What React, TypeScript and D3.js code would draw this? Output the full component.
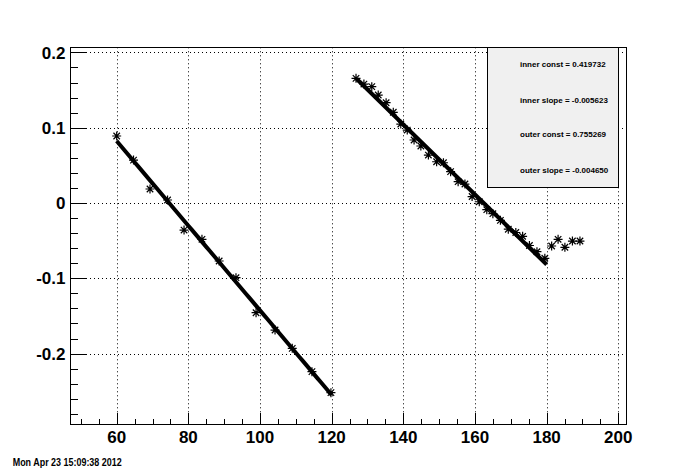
import React from 'react';
import * as d3 from 'd3';

// measured points
const innerX = [60, 64.7, 69.3, 74.2, 78.8, 83.8, 88.6, 93.3, 98.9, 104.2, 109, 114.5, 119.8];
const innerY = [0.089, 0.057, 0.0186, 0.004, -0.0359, -0.0482, -0.077, -0.0992, -0.1457, -0.1687, -0.193, -0.224, -0.2519];

const outerX = [126.8, 129.0, 131.2, 133.0, 135.2, 137.2, 139.3, 141.1, 143.0, 144.9, 147.0, 149.3, 151.2, 153.2, 155.3, 157.2,
  159.2, 161.2, 163.3, 165.0, 167.1, 169.3, 171.4, 173.3, 175.2, 177.3, 179.5, 181.4, 183.2, 185.1, 187.2, 189.3];
const outerY = [0.1656, 0.158, 0.1545, 0.1434, 0.1332, 0.1205, 0.1049, 0.0969, 0.0837, 0.0757, 0.0637, 0.0548, 0.0535, 0.0416,
  0.0283, 0.0252, 0.0086, 0.0017, -0.0089, -0.0142, -0.023, -0.0348, -0.0392, -0.0442, -0.0564, -0.0647, -0.0734,
  -0.0571, -0.0482, -0.0588, -0.0505, -0.0505];

// fit results
const innerConst = 0.419732;
const innerSlope = -0.005623;
const outerConst = 0.755269;
const outerSlope = -0.00465;
const innerRange = [60, 120];
const outerRange = [127, 180];

const xMajor = [60, 80, 100, 120, 140, 160, 180, 200];
const yMajor = [-0.2, -0.1, 0, 0.1, 0.2];
const yLabels = ['-0.2', '-0.1', '0', '0.1', '0.2'];

const legendLines = [
  'inner const = 0.419732',
  'inner slope = -0.005623',
  'outer const = 0.755269',
  'outer slope = -0.004650',
];

const dateText = 'Mon Apr 23 15:09:38 2012';

export default function App() {
  const width = 696;
  const height = 472;
  const frame = { left: 70, right: 625.7, top: 47.3, bottom: 424.3 };

  const x = d3.scaleLinear().domain([46.97, 202.07]).range([frame.left, frame.right]);
  const y = d3.scaleLinear().domain([-0.2939, 0.2068]).range([frame.bottom, frame.top]);

  const xMinor = d3.range(50, 202, 5);
  const yMinor = d3.range(-0.28, 0.2001, 0.02);

  const line = d3.line<number>().x(d => x(d[0])).y(d => y(d[1]));
  const fitPts = (c: number, s: number, r: number[]) =>
    d3.range(r[0], r[1] + 0.001, 1).map(v => [v, c + s * v]);

  const font = '"Liberation Sans", Arial, Helvetica, sans-serif';

  const star = (cx: number, cy: number, k: number) => {
    const r = 4.5;
    const d = r * 0.72;
    return (
      <path key={k}
        d={`M${cx - r},${cy}H${cx + r}M${cx},${cy - r}V${cy + r}M${cx - d},${cy - d}L${cx + d},${cy + d}M${cx - d},${cy + d}L${cx + d},${cy - d}`}
        stroke="#000" strokeWidth={1.2} fill="none" />
    );
  };

  const legend = { x0: 487.3, x1: 618.3, y0: frame.top, y1: 186.7 };
  const legendBase = [66.7, 103.3, 136.7, 172.7];

  return (
    <svg width={width} height={height} style={{ position: 'absolute', left: 0, top: 0, background: '#fff' }}>
      <rect width={width} height={height} fill="#fff" />

      {/* grid */}
      <g stroke="#000" strokeWidth={1} strokeDasharray="1,3">
        {xMajor.map(v => (
          <line key={'gx' + v} x1={Math.round(x(v)) + 0.5} x2={Math.round(x(v)) + 0.5} y1={frame.top} y2={frame.bottom} />
        ))}
        {yMajor.map(v => (
          <line key={'gy' + v} x1={frame.left} x2={frame.right} y1={Math.round(y(v)) + 0.5} y2={Math.round(y(v)) + 0.5} />
        ))}
      </g>

      {/* frame */}
      <rect x={frame.left + 0.5} y={frame.top + 0.5} width={frame.right - frame.left} height={frame.bottom - frame.top}
        fill="none" stroke="#000" strokeWidth={1} shapeRendering="crispEdges" />

      {/* x ticks */}
      <g stroke="#000" strokeWidth={1} shapeRendering="crispEdges">
        {xMinor.map(v => (
          <line key={'tx' + v} x1={Math.round(x(v)) + 0.5} x2={Math.round(x(v)) + 0.5}
            y1={frame.bottom} y2={frame.bottom - (xMajor.includes(v) ? 11.3 : 5.7)} />
        ))}
        {yMinor.map((v, i) => {
          const major = yMajor.some(m => Math.abs(m - v) < 1e-6);
          return (
            <line key={'ty' + i} x1={frame.left} x2={frame.left + (major ? 16.7 : 8.3)}
              y1={Math.round(y(v)) + 0.5} y2={Math.round(y(v)) + 0.5} />
          );
        })}
      </g>

      {/* axis labels */}
      <g fontFamily={font} fontWeight="bold" fontSize={17} fill="#000">
        {xMajor.map(v => (
          <text key={'lx' + v} x={x(v)} y={443} textAnchor="middle">{v}</text>
        ))}
        {yMajor.map((v, i) => (
          <text key={'ly' + v} x={65.5} y={y(v)} dy="0.36em" textAnchor="end">{yLabels[i]}</text>
        ))}
      </g>

      {/* fits */}
      <path d={line(fitPts(innerConst, innerSlope, innerRange) as any) || ''} stroke="#000" strokeWidth={4} fill="none" />
      <path d={line(fitPts(outerConst, outerSlope, outerRange) as any) || ''} stroke="#000" strokeWidth={4} fill="none" />

      {/* points */}
      <g>
        {innerX.map((v, i) => star(x(v), y(innerY[i]), i))}
        {outerX.map((v, i) => star(x(v), y(outerY[i]), 100 + i))}
      </g>

      {/* stats box */}
      <rect x={legend.x0 + 0.5} y={legend.y0 + 0.5} width={legend.x1 - legend.x0} height={legend.y1 - legend.y0}
        fill="#f0f0f0" stroke="#000" strokeWidth={1} shapeRendering="crispEdges" />
      <g fontFamily={font} fontWeight="bold" fontSize={8} fill="#000">
        {legendLines.map((t, i) => (
          <text key={t} x={520} y={legendBase[i]}>{t}</text>
        ))}
      </g>

      <text x={12.7} y={465.5} fontFamily={font} fontWeight="bold" fontSize={10} textLength={109}
        lengthAdjust="spacingAndGlyphs" fill="#000">{dateText}</text>
    </svg>
  );
}
